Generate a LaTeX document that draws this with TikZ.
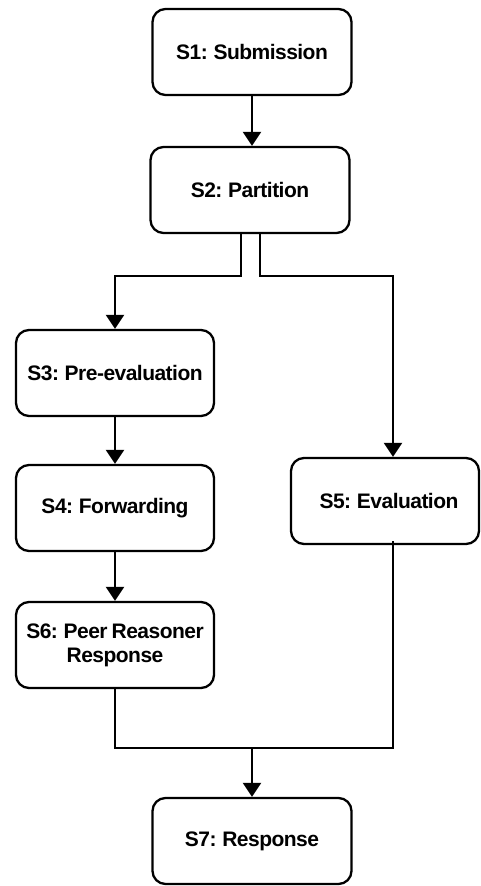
\documentclass[tikz,border=0pt]{standalone}
\usepackage{fontspec}
\setmainfont{Liberation Sans}
\newfontfamily\boxfont[LetterSpace=-2.5]{Liberation Sans}
\newcommand\boxtextsetup{\boxfont\fontsize{21}{24}\selectfont\bfseries\spaceskip 4pt\relax}
\usetikzlibrary{arrows.meta,calc}
\begin{document}
\begin{tikzpicture}[x=1pt,y=-1pt,
  box/.style={draw=black, line width=2.3pt, rounded corners=13pt, fill=white,
    minimum width=199pt, minimum height=86pt, align=center, inner sep=2pt,
    font=\boxtextsetup},
  conn/.style={draw=black, line width=2.5pt},
  arr/.style={conn, -{Triangle[width=18pt,length=14pt]}}]
\useasboundingbox (0,0) rectangle (480,886);
\node[box] (s1) at (252,52) {S1: Submission};
\node[box] (s2) at (250,190) {S2: Partition};
\node[box, minimum width=198pt] (s3) at (115,373) {S3: Pre-evaluation};
\node[box, minimum width=198pt] (s4) at (115,508) {S4: Forwarding};
\node[box, minimum width=188pt] (s5) at (385,501) {\hspace*{8pt}S5: Evaluation};
\node[box, minimum width=198pt] (s6) at (115,645) {S6: Peer Reasoner\\Response};
\node[box] (s7) at (252,841) {S7: Response};
\coordinate (b1) at (115,276);
\coordinate (b2) at (393,276);
\coordinate (m) at (393,748);
\draw[arr] (s1.south) -- (s1.south |- s2.north);
\draw[arr] ([xshift=-9pt]s2.south) |- (b1) -- (s3.north);
\draw[arr] ([xshift=10pt]s2.south) |- (b2) -- (b2 |- s5.north);
\draw[arr] (s3.south) -- (s4.north);
\draw[arr] (s4.south) -- (s6.north);
\draw[conn] (s6.south) |- (m) -- ([yshift=4pt]m |- s5.south);
\draw[arr] (s7.north |- m) -- (s7.north);
\end{tikzpicture}
\end{document}
